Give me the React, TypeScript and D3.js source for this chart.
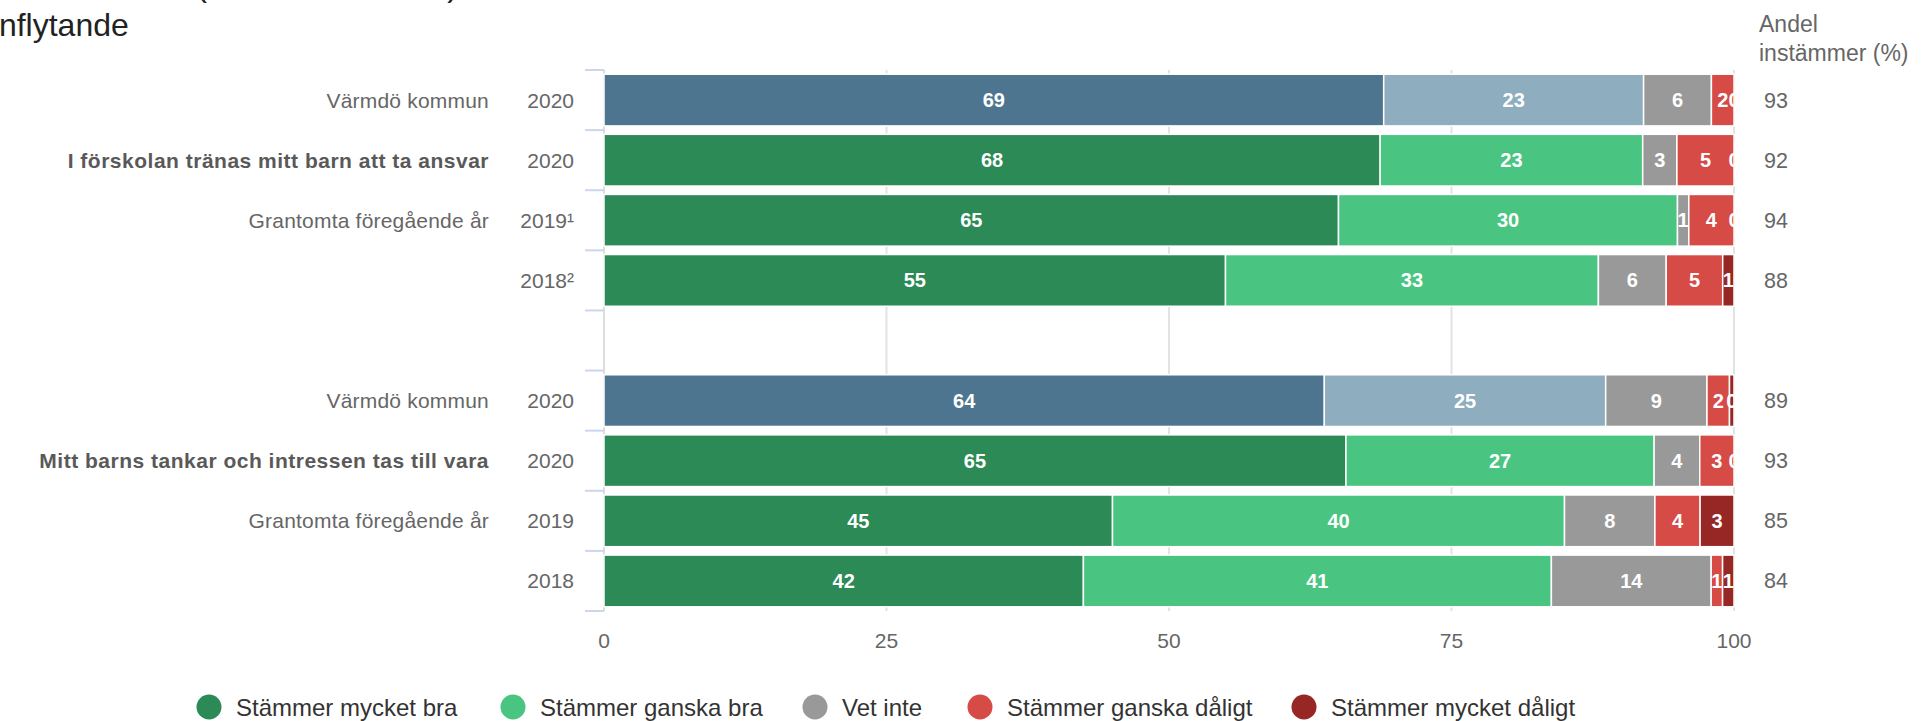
import React from 'react';
import * as d3 from 'd3';

// ---------- data ----------
const seriesNames = ['Stämmer mycket bra', 'Stämmer ganska bra', 'Vet inte', 'Stämmer ganska dåligt', 'Stämmer mycket dåligt'];
const seriesColors = ['#2b8a55', '#49c581', '#999999', '#d64b46', '#962724'];
const refSeriesColors = ['#4e758f', '#8eadbf', '#999999', '#d64b46', '#962724'];

const rowNames = ['Värmdö kommun', 'I förskolan tränas mitt barn att ta ansvar', 'Grantomta föregående år', '', '', 'Värmdö kommun', 'Mitt barns tankar och intressen tas till vara', 'Grantomta föregående år', ''];
const rowYears = ['2020', '2020', '2019¹', '2018²', '', '2020', '2020', '2019', '2018'];
const rowBold = [false, true, false, false, false, false, true, false, false];
const rowIsMunicipality = [true, false, false, false, false, true, false, false, false];
const rowValues: (number[] | null)[] = [
  [69, 23, 6, 2, 0],
  [68, 23, 3, 5, 0],
  [65, 30, 1, 4, 0],
  [55, 33, 6, 5, 1],
  null,
  [64, 25, 9, 2, 0.4],
  [65, 27, 4, 3, 0],
  [45, 40, 8, 4, 3],
  [42, 41, 14, 1, 1],
];
const shareAgree = ['93', '92', '94', '88', '', '89', '93', '85', '84'];
const xTicks = [0, 25, 50, 75, 100];
const titleLines = ['Föräldraenkät (Grantomta, 2020)', 'Inflytande'];
const shareHeader = ['Andel', 'instämmer (%)'];

// ---------- layout ----------
const W = 1928;
const H = 721;
const plotLeft = 604;
const plotRight = 1734;
const plotTop = 70;
const plotBottom = 611;
const FONT = '"Liberation Sans", Arial, Helvetica, sans-serif';

export default function App() {
  const x = d3.scaleLinear().domain([0, 100]).range([plotLeft, plotRight]);
  const y = d3
    .scaleBand<number>()
    .domain(d3.range(rowNames.length))
    .range([plotTop, plotBottom])
    .paddingInner(0.14)
    .paddingOuter(0.07);
  const step = y.step();
  const bw = y.bandwidth();
  const center = (i: number) => (y(i) as number) + bw / 2;
  const boundaries = d3.range(rowNames.length + 1).map((i) => plotTop + i * step);

  const legendCx = [209, 513, 815, 980, 1304];

  return (
    <div style={{ position: 'fixed', left: 0, top: 0, width: W, height: H, background: '#fff' }}>
      <svg width={W} height={H} style={{ display: 'block', fontFamily: FONT }}>
        <defs>
          <clipPath id="plotClip">
            <rect x={plotLeft} y={plotTop} width={plotRight - plotLeft} height={plotBottom - plotTop} />
          </clipPath>
        </defs>
        <rect x={0} y={0} width={W} height={H} fill="#fff" />

        {/* title (cropped at the top-left edge, as in the reference) */}
        <text x={-10} y={-4} fontSize={32} fill="#222">{titleLines[0]}</text>
        <text x={-10} y={36} fontSize={32} fill="#222">{titleLines[1]}</text>

        {/* grid lines */}
        {xTicks.slice(1).map((t) => (
          <line key={t} x1={x(t)} x2={x(t)} y1={plotTop} y2={plotBottom} stroke="#e3e3e3" strokeWidth={2} />
        ))}
        <line x1={plotLeft} x2={plotLeft} y1={plotTop} y2={plotBottom} stroke="#dedede" strokeWidth={2} />

        {/* category ticks */}
        {boundaries.map((b, i) => (
          <line key={i} x1={plotLeft - 19} x2={plotLeft} y1={b} y2={b} stroke="#ccd6eb" strokeWidth={2} />
        ))}

        {/* bars */}
        {rowValues.map((vals, i) => {
          if (!vals) return null;
          const total = d3.sum(vals);
          const cum = d3.cumsum(vals);
          const colors = rowIsMunicipality[i] ? refSeriesColors : seriesColors;
          return (
            <g key={i}>
              {vals.map((v, j) => {
                const x0 = x(((cum[j] - v) / total) * 100);
                const x1 = x((cum[j] / total) * 100);
                if (x1 - x0 <= 0) return null;
                return (
                  <rect key={j} x={x0} y={y(i)} width={x1 - x0} height={bw} fill={colors[j]} stroke="#fff" strokeWidth={1.5} />
                );
              })}
            </g>
          );
        })}

        {/* data labels */}
        <g clipPath="url(#plotClip)">
          {rowValues.map((vals, i) => {
            if (!vals) return null;
            const total = d3.sum(vals);
            const cum = d3.cumsum(vals);
            return vals.map((v, j) => {
              const xm = x(((cum[j] - v / 2) / total) * 100);
              return (
                <text key={`${i}-${j}`} x={xm} y={center(i) + 7} textAnchor="middle" fontSize={20} fontWeight="bold" fill="#fff">
                  {Math.round(v)}
                </text>
              );
            });
          })}
        </g>

        {/* category labels */}
        {rowNames.map((n, i) => (
          <g key={i}>
            {n && (
              <text
                x={489}
                y={center(i) + 7.5}
                textAnchor="end"
                fontSize={21}
                fontWeight={rowBold[i] ? 'bold' : 'normal'}
                letterSpacing={rowBold[i] ? 0.5 : 0.2}
                fill={rowBold[i] ? '#595959' : '#666'}
              >
                {n}
              </text>
            )}
            {rowYears[i] && (
              <text x={574} y={center(i) + 7.5} textAnchor="end" fontSize={21} fill="#666">
                {rowYears[i]}
              </text>
            )}
          </g>
        ))}

        {/* x axis labels */}
        {xTicks.map((t) => (
          <text key={t} x={x(t)} y={648} textAnchor="middle" fontSize={21} fill="#666">
            {t}
          </text>
        ))}

        {/* share column */}
        <text x={1759} y={32} fontSize={23} fill="#666">{shareHeader[0]}</text>
        <text x={1759} y={61} fontSize={23} fill="#666">{shareHeader[1]}</text>
        {shareAgree.map((s, i) =>
          s ? (
            <text key={i} x={1764} y={center(i) + 7.5} fontSize={21.5} fill="#666">
              {s}
            </text>
          ) : null
        )}

        {/* legend */}
        {seriesNames.map((n, i) => (
          <g key={n}>
            <circle cx={legendCx[i]} cy={707} r={12.5} fill={seriesColors[i]} />
            <text x={legendCx[i] + 27} y={715.5} fontSize={24} fill="#333">
              {n}
            </text>
          </g>
        ))}
      </svg>
    </div>
  );
}
